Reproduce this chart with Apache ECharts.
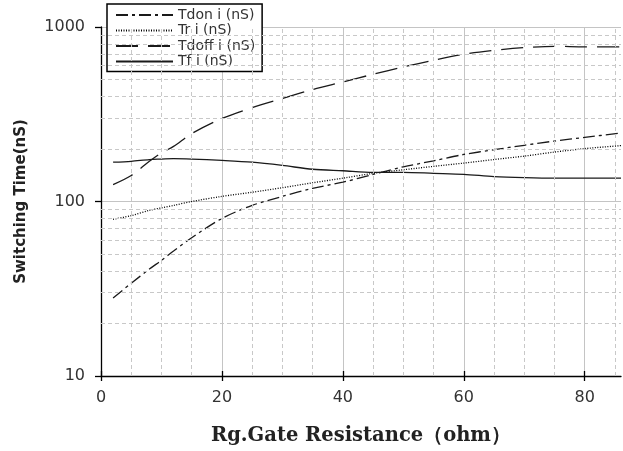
<!DOCTYPE html>
<html>
<head>
<meta charset="utf-8">
<script src="https://cdn.jsdelivr.net/npm/echarts@6/dist/echarts.min.js"></script>
<style>html,body{margin:0;padding:0;background:#fff}#c{width:623px;height:451px}</style>
</head>
<body>
<div id="c"></div>
<script>
const xs = [2, 5, 8, 10, 12, 15, 20, 25, 30, 35, 40, 45, 50, 55, 60, 65, 70, 75, 80, 86];
const tdon = [28, 34, 41, 46, 52, 62, 80, 95, 107, 119, 129, 143, 158, 171, 186, 198, 210, 222, 233, 247];
const tr = [79, 83, 89, 92, 95, 100, 107, 113, 120, 128, 136, 145, 152, 159, 166, 174, 182, 192, 201, 209];
const tdoff = [125, 141, 170, 190, 207, 245, 299, 345, 389, 438, 484, 536, 590, 645, 698, 735, 762, 775, 770, 770];
const tf = [168, 170, 174, 175, 176, 175, 172, 168, 161, 153, 150, 147, 147, 145, 143, 139, 137, 136, 136, 136];
const names = ['Tdon i (nS)', 'Tr i (nS)', 'Tdoff i (nS)', 'Tf i (nS)'];
const xTicks = [0, 20, 40, 60, 80];
const xMinor = [5, 10, 15, 25, 30, 35, 45, 50, 55, 65, 70, 75, 85];
const yMinor = [20, 30, 40, 50, 60, 70, 80, 90, 200, 300, 400, 500, 600, 700, 800, 900];

const pair = arr => xs.map((x, i) => [x, arr[i]]);
const chart = echarts.init(document.getElementById('c'));
const base = {type: 'line', symbol: 'none', smooth: 0.3, z: 3, silent: true};
const lc = '#1a1a1a';
const gridCol = '#c4c4c4';
chart.setOption({
  animation: false,
  backgroundColor: '#fff',
  grid: {left: 101, right: 2, top: 27, bottom: 74},
  legend: {
    left: 107, top: 4, orient: 'vertical',
    itemWidth: 57, itemHeight: 14, itemGap: 1.5,
    padding: [4, 7, 3, 8],
    borderColor: '#000', borderWidth: 1.5, backgroundColor: '#fff',
    itemStyle: {opacity: 0},
    textStyle: {fontFamily: 'DejaVu Sans', fontSize: 14, color: '#333'},
    data: names
  },
  xAxis: [{
    type: 'value', min: 0, max: 86, interval: 20,
    name: 'Rg.Gate Resistance（ohm）', nameLocation: 'middle', nameGap: 50,
    nameTextStyle: {fontFamily: 'DejaVu Serif', fontWeight: 'bold', fontSize: 19.5, color: '#222'},
    axisLine: {lineStyle: {color: '#000', width: 1.3}},
    axisTick: {show: true, length: 5, customValues: xTicks, lineStyle: {color: '#000', width: 1.3}},
    axisLabel: {customValues: xTicks, fontFamily: 'DejaVu Sans', fontSize: 16, color: '#333', margin: 14},
    splitLine: {show: true, lineStyle: {color: gridCol, width: 1}}
  }, {
    type: 'value', min: 0, max: 86, interval: 20, position: 'bottom',
    axisLine: {show: false},
    axisTick: {show: true, inside: true, length: 5, customValues: xTicks, lineStyle: {color: '#000', width: 1.3}},
    axisLabel: {show: false},
    splitLine: {show: false}
  }],
  yAxis: {
    type: 'log', logBase: 10, min: 10, max: 1000,
    name: 'Switching Time(nS)', nameLocation: 'middle', nameGap: 72,
    nameTextStyle: {fontFamily: 'DejaVu Sans', fontWeight: 'bold', fontSize: 15, color: '#222'},
    axisLine: {show: true, lineStyle: {color: '#000', width: 1.3}},
    axisTick: {show: true, length: 6, lineStyle: {color: '#000', width: 1.3}},
    axisLabel: {fontFamily: 'DejaVu Sans', fontSize: 16, color: '#333', margin: 16, formatter: v => String(v)},
    splitLine: {show: true, lineStyle: {color: gridCol, width: 1}}
  },
  series: [
    {type: 'line', data: [], symbol: 'none', z: 1, silent: true,
      markLine: {
        silent: true, symbol: 'none', animation: false,
        label: {show: false},
        lineStyle: {color: '#c8c8c8', type: [4, 3], width: 1},
        data: xMinor.map(v => ({xAxis: v})).concat(yMinor.map(v => ({yAxis: v})))
      }
    },
    Object.assign({}, base, {name: names[0], data: pair(tdon), lineStyle: {color: lc, width: 1.3, type: [12, 4, 3, 4]}, itemStyle: {color: lc}}),
    Object.assign({}, base, {name: names[1], data: pair(tr), lineStyle: {color: '#000', width: 1.3, type: [1, 1.5]}, itemStyle: {color: lc}}),
    Object.assign({}, base, {name: names[2], data: pair(tdoff), lineStyle: {color: lc, width: 1.3, type: [22, 10]}, itemStyle: {color: lc}}),
    Object.assign({}, base, {name: names[3], data: pair(tf), lineStyle: {color: lc, width: 1.3, type: 'solid'}, itemStyle: {color: lc}})
  ]
});
</script>
</body>
</html>
